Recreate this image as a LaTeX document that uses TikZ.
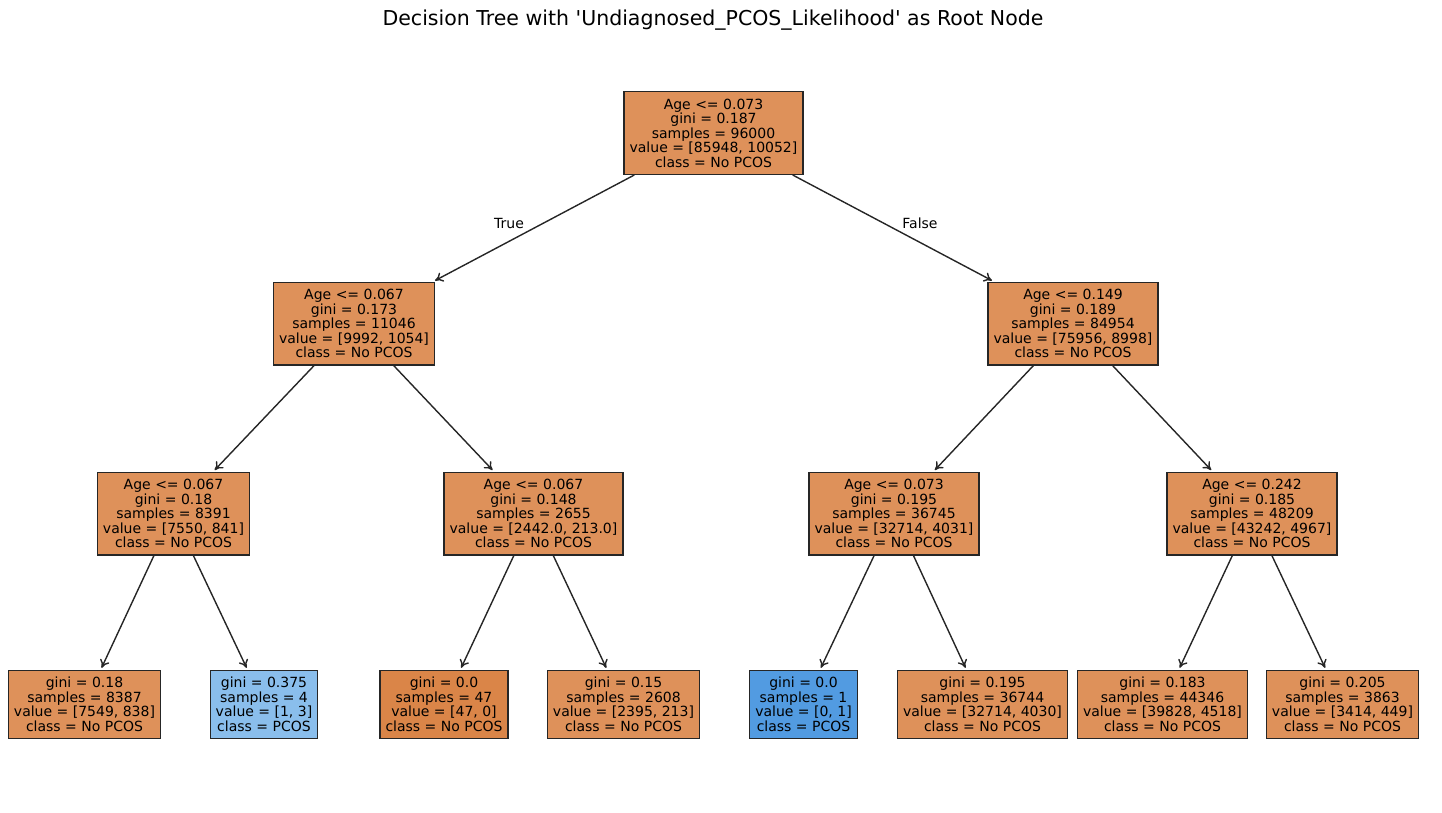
\documentclass[tikz,border=0pt]{standalone}
\usepackage{fontspec}
\setmainfont{DejaVu Sans}
\usetikzlibrary{arrows.meta}

\definecolor{noPCOS}{RGB}{222,145,90}
\definecolor{pureNo}{RGB}{218,133,72}
\definecolor{weakYes}{RGB}{138,190,236}
\definecolor{pureYes}{RGB}{82,155,225}

\newcommand{\boxfont}{\fontsize{14}{14.5}\selectfont}
\newcommand{\titlefont}{\fontsize{20.5}{23}\selectfont}

\tikzset{
  split/.style={draw=black!85, line width=1.4pt, fill=noPCOS, align=center,
    font=\boxfont, inner xsep=5.5pt, inner ysep=7pt},
  edge/.style={-{To[length=8pt,width=10pt]}, line width=1.4pt, draw=black!85, shorten >=2pt},
}

\begin{document}
\begin{tikzpicture}[x=1pt,y=-1pt]
  \useasboundingbox (0,0) rectangle (1442,812);
  \node[font=\titlefont] (title) at (713,20) {Decision Tree with \textquotesingle Undiagnosed\_PCOS\_Likelihood\textquotesingle{} as Root Node};
  % root
  \node[split] (root) at (713.5,133) {Age <= 0.073\\gini = 0.187\\samples = 96000\\value = [85948, 10052]\\class = No PCOS};
  % depth 1
  \node[split] (l) at (354,323.5) {Age <= 0.067\\gini = 0.173\\samples = 11046\\value = [9992, 1054]\\class = No PCOS};
  \node[split] (r) at (1073,323.5) {Age <= 0.149\\gini = 0.189\\samples = 84954\\value = [75956, 8998]\\class = No PCOS};
  % depth 2
  \node[split] (ll) at (173.5,513.5) {Age <= 0.067\\gini = 0.18\\samples = 8391\\value = [7550, 841]\\class = No PCOS};
  \node[split] (lr) at (533.5,513.5) {Age <= 0.067\\gini = 0.148\\samples = 2655\\value = [2442.0, 213.0]\\class = No PCOS};
  \node[split] (rl) at (894,513.5) {Age <= 0.073\\gini = 0.195\\samples = 36745\\value = [32714, 4031]\\class = No PCOS};
  \node[split] (rr) at (1252,513.5) {Age <= 0.242\\gini = 0.185\\samples = 48209\\value = [43242, 4967]\\class = No PCOS};
  % leaves
  \node[split] (lll) at (84.5,704.5) {gini = 0.18\\samples = 8387\\value = [7549, 838]\\class = No PCOS};
  \node[split, fill=weakYes] (llr) at (264,704.5) {gini = 0.375\\samples = 4\\value = [1, 3]\\class = PCOS};
  \node[split, fill=pureNo] (lrl) at (444,704.5) {gini = 0.0\\samples = 47\\value = [47, 0]\\class = No PCOS};
  \node[split] (lrr) at (623.5,704.5) {gini = 0.15\\samples = 2608\\value = [2395, 213]\\class = No PCOS};
  \node[split, fill=pureYes] (rll) at (803.5,704.5) {gini = 0.0\\samples = 1\\value = [0, 1]\\class = PCOS};
  \node[split] (rlr) at (982.5,704.5) {gini = 0.195\\samples = 36744\\value = [32714, 4030]\\class = No PCOS};
  \node[split] (rrl) at (1162.5,704.5) {gini = 0.183\\samples = 44346\\value = [39828, 4518]\\class = No PCOS};
  \node[split] (rrr) at (1342.5,704.5) {gini = 0.205\\samples = 3863\\value = [3414, 449]\\class = No PCOS};

  \draw[edge] (root) -- (l);
  \draw[edge] (root) -- (r);
  \foreach \p in {l, r, ll, lr, rl, rr}
    {\draw[edge] (\p) -- (\p l);
     \draw[edge] (\p) -- (\p r);}

  \node[font=\boxfont] (lblTrue) at (509,223) {True};
  \node[font=\boxfont] (lblFalse) at (920,223) {False};
\end{tikzpicture}
\end{document}
